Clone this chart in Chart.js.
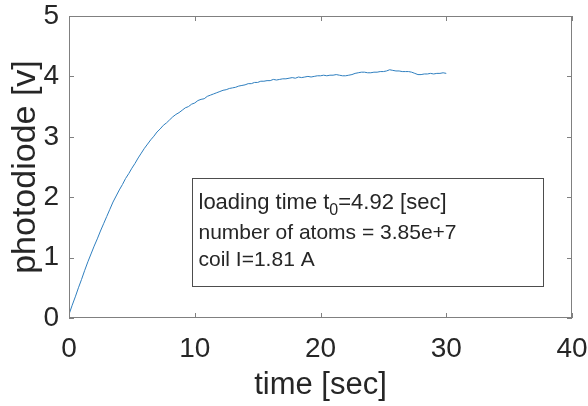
<!DOCTYPE html>
<html>
<head>
<meta charset="utf-8">
<script src="https://cdn.jsdelivr.net/npm/chart.js@4/dist/chart.umd.min.js"></script>
<style>
  html, body { margin: 0; padding: 0; background: #ffffff; }
  #wrap { width: 588px; height: 406px; }
</style>
</head>
<body>
<div id="wrap"><canvas id="c" width="588" height="406"></canvas></div>
<script>
// Photodiode signal during MOT loading, sampled every 0.25 s from 0 to 30 s.
const sampleStep = 0.25;
const photodiodeVolts = [
  0.06, 0.21, 0.35, 0.50, 0.64, 0.79, 0.93, 1.06, 1.19, 1.31,
  1.44, 1.56, 1.68, 1.80, 1.92, 2.02, 2.12, 2.21, 2.31, 2.39,
  2.48, 2.56, 2.65, 2.73, 2.81, 2.88, 2.95, 3.01, 3.08, 3.13,
  3.19, 3.23, 3.28, 3.33, 3.37, 3.40, 3.44, 3.48, 3.50, 3.54,
  3.56, 3.60, 3.62, 3.63, 3.67, 3.69, 3.71, 3.73, 3.75, 3.77,
  3.78, 3.80, 3.81, 3.82, 3.84, 3.85, 3.86, 3.88, 3.88, 3.90,
  3.90, 3.92, 3.92, 3.93, 3.93, 3.95, 3.94, 3.95, 3.96, 3.96,
  3.97, 3.98, 3.97, 3.99, 3.98, 3.99, 4.00, 3.99, 4.00, 4.01,
  4.01, 4.02, 4.01, 4.02, 4.02, 4.03, 4.02, 4.01, 4.01, 4.02,
  4.03, 4.05, 4.06, 4.07, 4.07, 4.06, 4.06, 4.07, 4.07, 4.08,
  4.08, 4.09, 4.11, 4.10, 4.09, 4.09, 4.08, 4.08, 4.08, 4.07,
  4.05, 4.03, 4.03, 4.04, 4.04, 4.05, 4.04, 4.05, 4.05, 4.06,
  4.05
];

// Axis ranges and tick values
const xTicks = [0, 10, 20, 30, 40];
const yTicks = [0, 1, 2, 3, 4, 5];

// Fit results shown in the info box
const loadingTime = 4.92;
const atomNumber = '3.85e+7';
const coilCurrent = 1.81;

const FONT = 'Liberation Sans, Arial, Helvetica, sans-serif';
const INK = '#262626';
const AXIS = '#808080';
const LINE = '#2f7fbf';

const points = photodiodeVolts.map((v, i) => ({ x: i * sampleStep, y: v }));

// Info box corners in data units
const infoBox = { x0: 9.8, y0: 2.32, x1: 37.7, y1: 0.53 };

const boxAndInfo = {
  id: 'boxAndInfo',
  afterDatasetsDraw(chart) {
    const { ctx, chartArea: a, scales: { x, y } } = chart;
    ctx.save();
    // axes box
    ctx.strokeStyle = AXIS;
    ctx.lineWidth = 1;
    ctx.strokeRect(Math.round(a.left) + 0.5, Math.round(a.top) + 0.5,
                   Math.round(a.right - a.left) - 1, Math.round(a.bottom - a.top) - 1);
    // inward tick marks on all four sides
    const tl = 5;
    ctx.beginPath();
    xTicks.forEach(v => {
      const px = Math.round(x.getPixelForValue(v)) + 0.5;
      ctx.moveTo(px, a.bottom); ctx.lineTo(px, a.bottom - tl);
      ctx.moveTo(px, a.top); ctx.lineTo(px, a.top + tl);
    });
    yTicks.forEach(v => {
      const py = Math.round(y.getPixelForValue(v)) + 0.5;
      ctx.moveTo(a.left, py); ctx.lineTo(a.left + tl, py);
      ctx.moveTo(a.right, py); ctx.lineTo(a.right - tl, py);
    });
    ctx.stroke();

    // info box
    const bx0 = Math.round(x.getPixelForValue(infoBox.x0)) + 0.5;
    const bx1 = Math.round(x.getPixelForValue(infoBox.x1)) + 0.5;
    const by0 = Math.round(y.getPixelForValue(infoBox.y0)) + 0.5;
    const by1 = Math.round(y.getPixelForValue(infoBox.y1)) + 0.5;
    ctx.fillStyle = '#ffffff';
    ctx.fillRect(bx0, by0, bx1 - bx0, by1 - by0);
    ctx.strokeStyle = '#4d4d4d';
    ctx.strokeRect(bx0, by0, bx1 - bx0, by1 - by0);

    ctx.fillStyle = INK;
    ctx.textBaseline = 'alphabetic';
    ctx.textAlign = 'left';
    const tx = bx0 + 6;
    const first = '22px ' + FONT;
    const body = '21px ' + FONT;
    const small = '16px ' + FONT;
    // line 1 with subscript
    let cx = tx;
    const base = by0 + 30;
    ctx.font = first;
    const p1 = 'loading time t';
    ctx.fillText(p1, cx, base); cx += ctx.measureText(p1).width;
    ctx.font = small;
    ctx.fillText('0', cx, base + 6); cx += ctx.measureText('0').width;
    ctx.font = first;
    ctx.fillText('=' + loadingTime.toFixed(2) + ' [sec]', cx, base);
    // lines 2 and 3
    ctx.font = body;
    ctx.fillText('number of atoms = ' + atomNumber, tx, by0 + 60);
    ctx.fillText('coil I=' + coilCurrent.toFixed(2) + ' A', tx, by0 + 87);
    ctx.restore();
  }
};

new Chart(document.getElementById('c'), {
  type: 'scatter',
  data: {
    datasets: [{
      data: points,
      showLine: true,
      borderColor: LINE,
      borderWidth: 1,
      pointRadius: 0,
      tension: 0,
      fill: false
    }]
  },
  options: {
    responsive: false,
    animation: false,
    events: [],
    layout: { padding: { top: 16, right: 16, left: 0, bottom: 0 } },
    plugins: { legend: { display: false }, tooltip: { enabled: false } },
    scales: {
      x: {
        type: 'linear', min: 0, max: 40,
        afterBuildTicks: s => { s.ticks = xTicks.map(v => ({ value: v })); },
        afterFit: s => { s.height = 88; s.paddingLeft = 0; s.paddingRight = 0; },
        grid: { display: false, drawTicks: false },
        border: { display: false },
        ticks: { color: INK, font: { family: FONT, size: 28 }, padding: 14, maxRotation: 0 },
        title: { display: true, text: 'time [sec]', color: INK,
                 font: { family: FONT, size: 31 }, padding: { top: 0, bottom: 2 } }
      },
      y: {
        type: 'linear', min: 0, max: 5,
        afterBuildTicks: s => { s.ticks = yTicks.map(v => ({ value: v })); },
        afterFit: s => { s.width = 69; s.paddingTop = 0; s.paddingBottom = 0; },
        grid: { display: false, drawTicks: false },
        border: { display: false },
        ticks: { color: INK, font: { family: FONT, size: 28 }, padding: 10 },
        title: { display: true, text: 'photodiode [v]', color: INK,
                 font: { family: FONT, size: 34 }, padding: { top: 5, bottom: 0 } }
      }
    }
  },
  plugins: [boxAndInfo]
});
</script>
</body>
</html>
